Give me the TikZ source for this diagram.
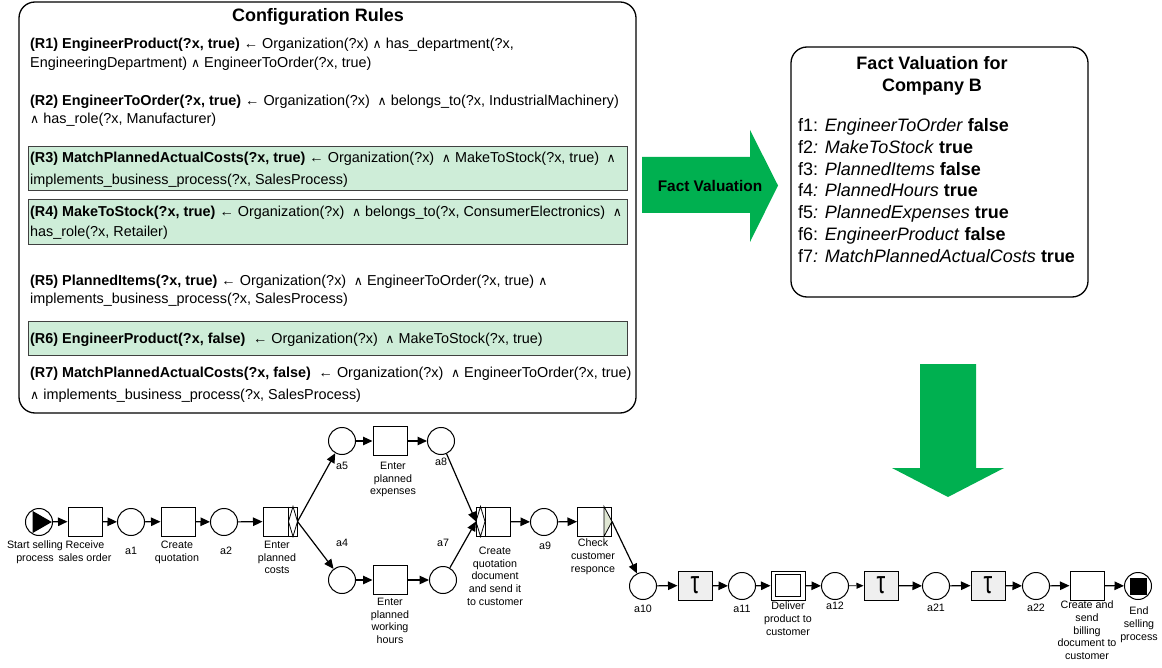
\documentclass[tikz,border=0pt]{standalone}
\usepackage{fontspec}
\setmainfont{Liberation Sans}
\newfontfamily\symfont{DejaVu Sans}
\usetikzlibrary{arrows.meta,calc}

\definecolor{arrowgreen}{RGB}{0,176,80}
\definecolor{rulegreen}{RGB}{206,237,216}
\definecolor{xorfill}{RGB}{224,231,211}
\definecolor{taufill}{RGB}{239,239,239}

% logical symbols used in the rule bodies
\newcommand\conj{{\symfont\fontsize{12.5}{12.5}\selectfont ∧}}
\newcommand\impl{←}
\newcommand\dsp{\hspace{3.6pt}}

\begin{document}
\begin{tikzpicture}[x=1pt,y=-1pt,
  panel/.style={draw=black, line width=1.3pt, rounded corners=16pt},
  hilite/.style={draw=black!75, line width=0.8pt, fill=rulegreen},
  ruletext/.style={anchor=base west, inner sep=0pt, font=\fontsize{14.4}{17}\selectfont},
  facttext/.style={anchor=base west, inner sep=0pt, font=\fontsize{18}{22}\selectfont},
  heading/.style={inner sep=0pt, align=center, font=\bfseries\fontsize{18}{22}\selectfont},
  place/.style={circle, draw, line width=1pt, minimum size=27pt, inner sep=0pt},
  trans/.style={rectangle, draw, line width=1pt, minimum width=34pt, minimum height=29pt, inner sep=0pt},
  silent/.style={trans, fill=taufill},
  arc/.style={line width=1.2pt, -{Triangle[length=9.5pt,width=8.5pt]}},
  lbl/.style={inner sep=0pt, anchor=north, align=center, font=\fontsize{10.7}{12.6}\selectfont}
]
\useasboundingbox (0,0) rectangle (1162,668);

% ---------------- configuration rules ----------------
\draw[panel] (19,2) rectangle (636,413);
\node[heading] (crtitle) at (318,17) {Configuration Rules};

\draw[hilite] (28,146) rectangle (627,190);
\draw[hilite] (28,199) rectangle (627,244);
\draw[hilite] (28,321) rectangle (627,355);

\node[ruletext] (r1a) at (30,49) {\textbf{(R1) EngineerProduct(?x, true)} \impl{} Organization(?x) \conj{} has\_department(?x,};
\node[ruletext] (r1b) at (30,68) {EngineeringDepartment) \conj{} EngineerToOrder(?x, true)};

\node[ruletext] (r2a) at (30,106) {\textbf{(R2) EngineerToOrder(?x, true)} \impl{} Organization(?x)\dsp{} \conj{} belongs\_to(?x, IndustrialMachinery)};
\node[ruletext] (r2b) at (30,124) {\conj{} has\_role(?x, Manufacturer)};

\node[ruletext] (r3a) at (30,163) {\textbf{(R3) MatchPlannedActualCosts(?x, true)} \impl{} Organization(?x)\dsp{} \conj{} MakeToStock(?x, true)\dsp{} \conj};
\node[ruletext] (r3b) at (30,185) {implements\_business\_process(?x, SalesProcess)};

\node[ruletext] (r4a) at (30,217) {\textbf{(R4) MakeToStock(?x, true)} \impl{} Organization(?x)\dsp{} \conj{} belongs\_to(?x, ConsumerElectronics)\dsp{} \conj};
\node[ruletext] (r4b) at (30,237) {has\_role(?x, Retailer)};

\node[ruletext] (r5a) at (30,286) {\textbf{(R5) PlannedItems(?x, true)} \impl{} Organization(?x)\dsp{} \conj{} EngineerToOrder(?x, true) \conj};
\node[ruletext] (r5b) at (30,304) {implements\_business\_process(?x, SalesProcess)};

\node[ruletext] (r6a) at (30,344) {\textbf{(R6) EngineerProduct(?x, false)}\dsp{} \impl{} Organization(?x)\dsp{} \conj{} MakeToStock(?x, true)};

\node[ruletext] (r7a) at (30,377) {\textbf{(R7) MatchPlannedActualCosts(?x, false)}\dsp{} \impl{} Organization(?x)\dsp{} \conj{} EngineerToOrder(?x, true)};
\node[ruletext] (r7b) at (30,399) {\conj{} implements\_business\_process(?x, SalesProcess)};

% ---------------- fact valuation ----------------
\fill[arrowgreen] (642,157) -- (750,157) -- (750,130) -- (778,185.5) -- (750,242) -- (750,213) -- (642,213) -- cycle;
\node[inner sep=0pt, font=\bfseries\fontsize{15.4}{18}\selectfont] (fvlabel) at (710,186) {Fact Valuation};

\draw[panel] (791,47) rectangle (1088,297);
\node[heading] (fvtitle) at (932,76) {Fact Valuation for\\Company B};
\node[facttext] (f1) at (798,131.5) {f1: \textit{EngineerToOrder} \textbf{false}};
\node[facttext] (f2) at (798,153.5) {f2\textit{: MakeToStock} \textbf{true}};
\node[facttext] (f3) at (798,175.5) {f3: \textit{PlannedItems} \textbf{false}};
\node[facttext] (f4) at (798,196.5) {f4\textit{: PlannedHours} \textbf{true}};
\node[facttext] (f5) at (798,218.5) {f5\textit{: PlannedExpenses} \textbf{true}};
\node[facttext] (f6) at (798,240.5) {f6: \textit{EngineerProduct} \textbf{false}};
\node[facttext] (f7) at (798,262.5) {f7\textit{: MatchPlannedActualCosts} \textbf{true}};

\fill[arrowgreen] (920,364) -- (976,364) -- (976,468) -- (1004,468) -- (948,497) -- (892,468) -- (920,468) -- cycle;

% ---------------- process net ----------------
\node[place] (start) at (39,522) {};
\node[trans] (recv) at (85,521.5) {};
\node[place] (a1) at (131,522) {};
\node[trans] (createq) at (178,521.5) {};
\node[place] (a2) at (224,522) {};
\node[trans] (epc) at (280,521.5) {};
\node[place] (a5) at (342,441) {};
\node[trans] (epe) at (390,441) {};
\node[place] (a8) at (441,441) {};
\node[place] (a4) at (342,580) {};
\node[trans] (epwh) at (390,580) {};
\node[place] (a7) at (443,580) {};
\node[trans] (cqd) at (493.5,521.5) {};
\node[place] (a9) at (544,522) {};
\node[trans] (ccr) at (594.5,521.5) {};
\node[place] (a10) at (643,586) {};
\node[silent] (tau1) at (695,585.5) {\scalebox{1.1}[1.6]{\fontsize{20}{20}\selectfont τ}};
\node[place] (a11) at (742,586) {};
\node[trans] (deliver) at (788,585.5) {};
\node[place] (a12) at (835,586) {};
\node[silent] (tau2) at (881,585.5) {\scalebox{1.1}[1.6]{\fontsize{20}{20}\selectfont τ}};
\node[place] (a21) at (936,586) {};
\node[silent] (tau3) at (988,585.5) {\scalebox{1.1}[1.6]{\fontsize{20}{20}\selectfont τ}};
\node[place] (a22) at (1036,586) {};
\node[trans] (billing) at (1087,585.5) {};
\node[place] (end) at (1138,586) {};

% start and end markers
\fill ($(start.center)+(-6.3,-11)$) -- ($(start.center)+(-6.3,11)$) -- ($(start.center)+(12.8,0)$) -- cycle;
\fill ($(end.center)+(-8.5,-8.5)$) rectangle ($(end.center)+(8.5,8.5)$);

% or-split, or-join, xor-split and composite task decorations
\draw[line width=0.8pt] ([xshift=-9pt]epc.north east) -- ([xshift=-9pt]epc.south east);
\draw[line width=0.8pt] ([xshift=-4.5pt]epc.north east) -- ([xshift=-9pt]epc.east) -- ([xshift=-4.5pt]epc.south east) -- (epc.east) -- cycle;
\draw[line width=0.8pt] ([xshift=9pt]cqd.north west) -- ([xshift=9pt]cqd.south west);
\draw[line width=0.8pt] ([xshift=4.5pt]cqd.north west) -- (cqd.west) -- ([xshift=4.5pt]cqd.south west) -- ([xshift=9pt]cqd.west) -- cycle;
\draw[line width=0.8pt, fill=xorfill] ([xshift=-8pt]ccr.north east) -- (ccr.east) -- ([xshift=-8pt]ccr.south east) -- cycle;
\draw[line width=0.8pt] ([shift={(5pt,-4pt)}]deliver.north west) rectangle ([shift={(-5pt,4pt)}]deliver.south east);

% arcs
\draw[arc] (start) -- (recv);
\draw[arc] (recv) -- (a1);
\draw[arc] (a1) -- (createq);
\draw[arc] (createq) -- (a2);
\draw[arc] (a2) -- (epc);
\draw[arc] (epc.east) -- (a5);
\draw[arc] (epc.east) -- (a4);
\draw[arc] (a5) -- (epe);
\draw[arc] (epe) -- (a8);
\draw[arc] (a4) -- (epwh);
\draw[arc] (epwh) -- (a7);
\draw[arc] (a8) -- (cqd.west);
\draw[arc] (a7) -- (cqd.west);
\draw[arc] (cqd) -- (a9);
\draw[arc] (a9) -- (ccr);
\draw[arc] (ccr.east) -- (a10);
\draw[arc] (a10) -- (tau1);
\draw[arc] (tau1) -- (a11);
\draw[arc] (a11) -- (deliver);
\draw[arc] (deliver) -- (a12);
\draw[line width=0.8pt, -{Triangle[length=7pt,width=6pt]}] (a12) -- (tau2);
\draw[arc] (tau2) -- (a21);
\draw[arc] (a21) -- (tau3);
\draw[arc] (tau3) -- (a22);
\draw[arc] (a22) -- (billing);
\draw[arc] (billing) -- (end);

% labels
\node[lbl] (l-start) at (35,541) {Start selling\\process};
\node[lbl] (l-recv) at (85,541) {Receive\\sales order};
\node[lbl] (l-a1) at (131,547) {a1};
\node[lbl] (l-createq) at (177,541) {Create\\quotation};
\node[lbl] (l-a2) at (226,547) {a2};
\node[lbl] (l-epc) at (277,541) {Enter\\planned\\costs};
\node[lbl] (l-a5) at (342,462) {a5};
\node[lbl] (l-epe) at (393,462) {Enter\\planned\\expenses};
\node[lbl] (l-a8) at (441,458) {a8};
\node[lbl] (l-a4) at (342,539) {a4};
\node[lbl] (l-a7) at (443,539) {a7};
\node[lbl] (l-epwh) at (390,598) {Enter\\planned\\working\\hours};
\node[lbl] (l-cqd) at (495,547) {Create\\quotation\\document\\and send it\\to customer};
\node[lbl] (l-a9) at (545,542) {a9};
\node[lbl] (l-ccr) at (593,539) {Check\\customer\\responce};
\node[lbl] (l-a10) at (643,605) {a10};
\node[lbl] (l-a11) at (742,605) {a11};
\node[lbl] (l-deliver) at (788,602) {Deliver\\product to\\customer};
\node[lbl] (l-a12) at (835,602) {a12};
\node[lbl] (l-a21) at (936,604) {a21};
\node[lbl] (l-a22) at (1036,604) {a22};
\node[lbl] (l-billing) at (1087,601) {Create and\\send\\billing\\document to\\customer};
\node[lbl] (l-end) at (1139,607) {End\\selling\\process};
\end{tikzpicture}
\end{document}
